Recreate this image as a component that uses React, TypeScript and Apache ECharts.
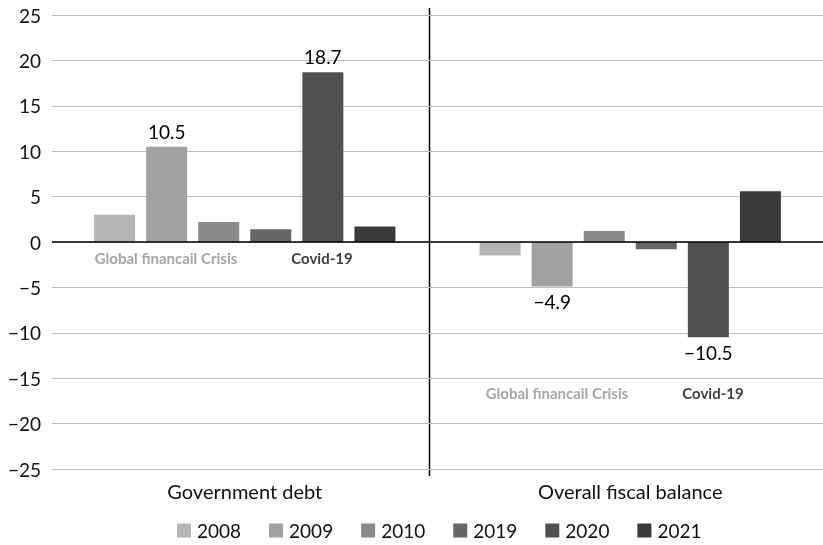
import React, { useEffect, useRef } from "react";
import * as echarts from "echarts";

const categories = ["Government debt", "Overall fiscal balance"];
const years = ["2008", "2009", "2010", "2019", "2020", "2021"];
const v2008 = [3.0, -1.5];
const v2009 = [10.5, -4.9];
const v2010 = [2.2, 1.2];
const v2019 = [1.4, -0.8];
const v2020 = [18.7, -10.5];
const v2021 = [1.7, 5.6];
const seriesValues = [v2008, v2009, v2010, v2019, v2020, v2021];
const colors = ["#b4b4b4", "#a0a0a0", "#8a8a8a", "#676767", "#505050", "#3a3a3a"];
const labelledSeries = ["2009", "2020"];
const yTicks = { min: -25, max: 25, interval: 5 };

const FONT = "Lato, 'Open Sans', sans-serif";
const fmt = (v: number) => (v < 0 ? "\u2212" + Math.abs(v) : String(v));

export default function App() {
  const ref = useRef<HTMLDivElement>(null);
  useEffect(() => {
    if (!ref.current) return;
    const chart = echarts.init(ref.current, undefined, { renderer: "svg" });
    const series: any[] = years.map((y, i) => ({
      name: y,
      type: "bar",
      data: seriesValues[i].map((v) => ({
        value: v,
        label: {
          show: labelledSeries.includes(y),
          position: v >= 0 ? "top" : "bottom",
        },
      })),
      itemStyle: { color: colors[i] },
      barWidth: 41,
      barGap: "27%",
      label: {
        fontFamily: FONT,
        fontSize: 19,
        color: "#000",
        distance: 6,
        formatter: (p: any) => fmt(p.value),
      },
      ...(i === 0
        ? {
            markLine: {
              silent: true,
              symbol: "none",
              label: { show: false },
              lineStyle: { color: "#000", width: 1.5, type: "solid" },
              data: [{ yAxis: 0 }],
            },
          }
        : {}),
    }));
    const annot = (text: string, x: number, y: number, fill: string) => ({
      type: "text",
      x,
      y,
      style: {
        text,
        fontFamily: FONT,
        fontWeight: "bold",
        fontSize: 15,
        fill,
        align: "center",
        verticalAlign: "middle",
      },
    });
    chart.setOption({
      animation: false,
      color: colors,
      textStyle: { fontFamily: FONT },
      grid: { left: 52, right: 0, top: 15, bottom: 76, containLabel: false },
      xAxis: {
        type: "category",
        data: categories,
        axisLine: { show: false, onZero: false },
        axisTick: { show: false },
        axisLabel: { fontFamily: FONT, fontSize: 20, color: "#111", margin: 12 },
        splitLine: { show: false },
      },
      yAxis: {
        type: "value",
        min: yTicks.min,
        max: yTicks.max,
        interval: yTicks.interval,
        axisLine: { show: false },
        axisTick: { show: false },
        axisLabel: {
          fontFamily: FONT,
          fontSize: 19,
          color: "#111",
          margin: 11,
          formatter: (v: number) => fmt(v),
        },
        splitLine: { lineStyle: { color: "#bfbfbf", width: 1.2 } },
      },
      legend: {
        top: 521,
        left: 177,
        padding: 0,
        itemWidth: 14,
        itemHeight: 14,
        itemGap: 28,
        icon: "rect",
        textStyle: { fontFamily: FONT, fontSize: 19, color: "#111", padding: [0, 0, 0, 1] },
        data: years,
      },
      graphic: [
        {
          type: "line",
          shape: { x1: 429.5, y1: 8, x2: 429.5, y2: 476 },
          style: { stroke: "#000", lineWidth: 1.5 },
          silent: true,
        },
        annot("Global financail Crisis", 166, 258, "#a6a6a6"),
        annot("Covid-19", 322, 258, "#404040"),
        annot("Global financail Crisis", 557, 393, "#a6a6a6"),
        annot("Covid-19", 713, 393, "#404040"),
      ],
      series,
    });
    return () => chart.dispose();
  }, []);
  return (
    <div
      ref={ref}
      style={{ position: "fixed", left: 0, top: 0, width: 823, height: 545 }}
    />
  );
}
